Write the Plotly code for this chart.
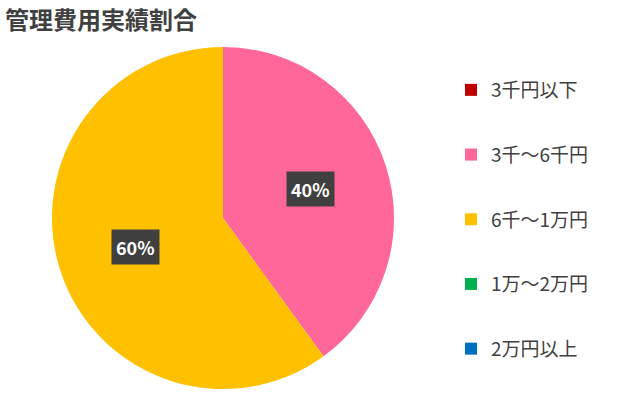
import math
import plotly.graph_objects as go

categories = ["3千円以下", "3千～6千円", "6千～1万円", "1万～2万円", "2万円以上"]
values = [0, 40, 60, 0, 0]
colors = ["#C00000", "#FF6699", "#FFC000", "#00B050", "#0070C0"]
title_text = "管理費用実績割合"

W, H = 640, 395
dom_x = [52 / W, 394 / W]
dom_y = [1 - 389 / H, 1 - 47 / H]

fig = go.Figure()
fig.add_trace(go.Pie(
    labels=categories, values=values, sort=False, direction="clockwise",
    rotation=0, marker=dict(colors=colors, line=dict(width=0)),
    textinfo="none", showlegend=False, domain=dict(x=dom_x, y=dom_y),
    hoverinfo="label+percent",
))

# legend entries
for i, (c, col) in enumerate(zip(categories, colors)):
    fig.add_trace(go.Scatter(
        x=[None], y=[None], mode="markers", name=c,
        marker=dict(symbol="square", size=12, color=col),
        legendgroup=f"g{i}", showlegend=True,
    ))

# data labels computed from the values
total = sum(values)
cx = (dom_x[0] + dom_x[1]) / 2
cy = (dom_y[0] + dom_y[1]) / 2
r_px = (dom_x[1] - dom_x[0]) * W / 2
cum = 0
for v in values:
    if v > 0:
        mid = (cum + v / 2) / total * 2 * math.pi
        dist = 0.54 * r_px
        px = cx * W + dist * math.sin(mid)
        py = (1 - cy) * H - dist * math.cos(mid)
        fig.add_annotation(
            x=px / W, y=1 - py / H, xref="paper", yref="paper",
            xanchor="center", yanchor="middle",
            text=f"<b>{round(v / total * 100)}%</b>", showarrow=False,
            font=dict(family="Noto Sans CJK JP", size=18, color="white"),
            bgcolor="#404040", borderpad=4,
        )
    cum += v

fig.update_layout(
    width=W, height=H,
    margin=dict(l=0, r=0, t=0, b=0),
    paper_bgcolor="white", plot_bgcolor="white",
    xaxis=dict(visible=False), yaxis=dict(visible=False),
    title=dict(text=f"<b>{title_text}</b>", x=5 / W, xanchor="left",
               y=1 - 21 / H, yanchor="middle",
               font=dict(family="Noto Sans CJK JP", size=24, color="#404040")),
    legend=dict(x=451 / W, y=1 - 71 / H, xanchor="left", yanchor="top",
                font=dict(family="Noto Sans CJK JP", size=19, color="#404040"),
                tracegroupgap=37, itemwidth=30, bgcolor="rgba(0,0,0,0)"),
    showlegend=True,
)

fig.write_html("out.html", config={"displayModeBar": False},
               post_script="document.body.style.margin='0';")
